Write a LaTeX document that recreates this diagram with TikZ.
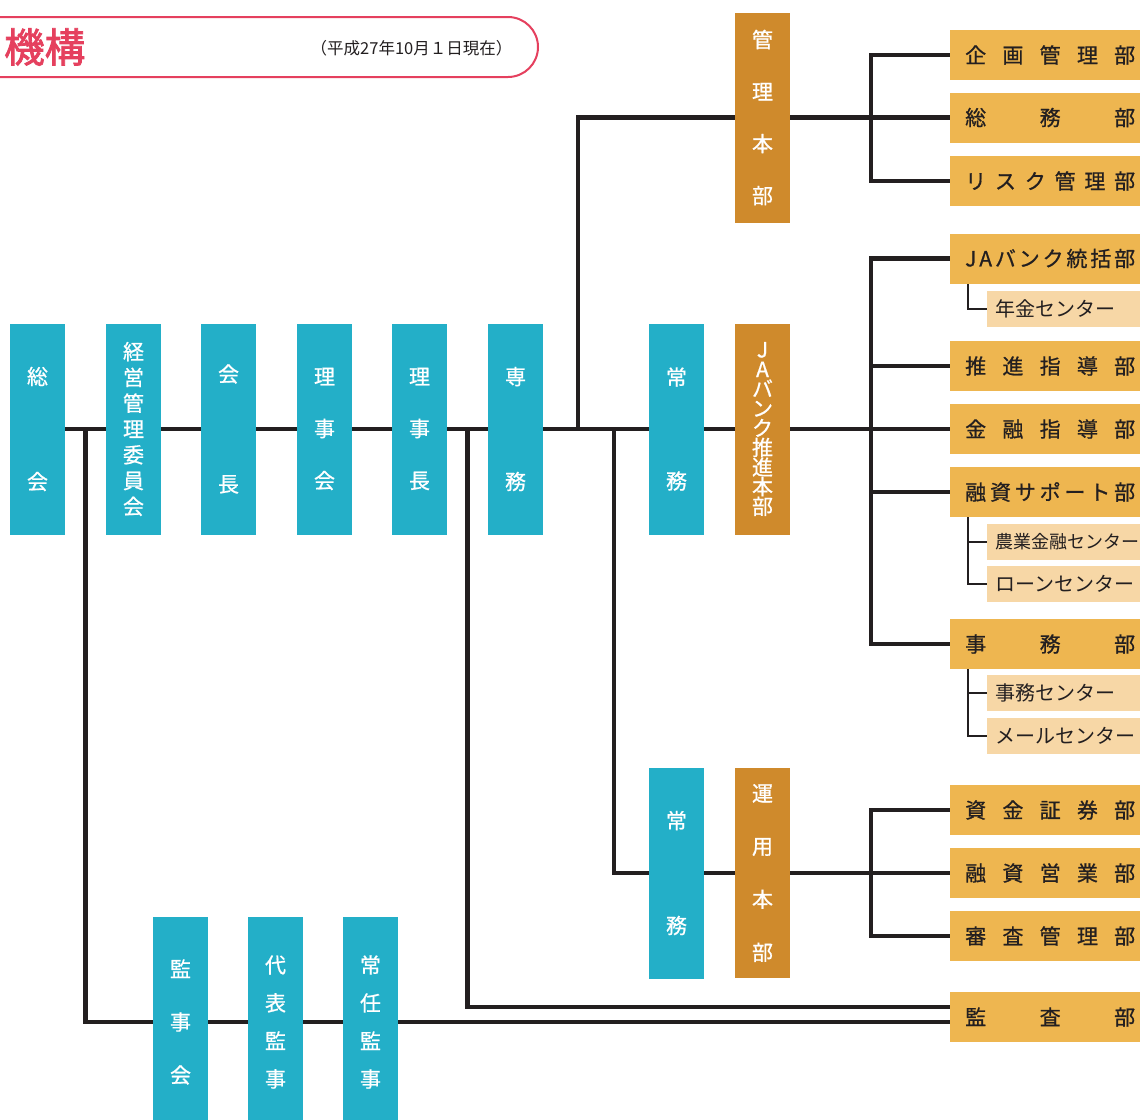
\documentclass[tikz,border=0pt]{standalone}
\usepackage{fontspec}
\setmainfont{Noto Sans CJK JP}
\newfontfamily\jpm[FakeBold=0.8]{Noto Sans CJK JP}
\newfontfamily\jpb[FakeBold=2]{Noto Sans CJK JP}
\usetikzlibrary{calc}
\definecolor{tealc}{HTML}{23AFC8}
\definecolor{dorange}{HTML}{CF8A2C}
\definecolor{lorange}{HTML}{EEB650}
\definecolor{porange}{HTML}{F7D7A6}
\definecolor{linec}{HTML}{231F20}
\definecolor{pinkc}{HTML}{E5405E}
\pgfdeclarelayer{back}
\pgfdeclarelayer{bg}
\pgfsetlayers{back,bg,main}
\newcommand\jt[1]{\makebox[170pt][s]{#1}}
\newcommand\sub[1]{\makebox[144pt][l]{#1}}
\begin{document}
\begin{tikzpicture}[x=1pt,y=-1pt,
  vbox/.style={minimum width=55pt, minimum height=211pt, inner sep=0pt, text=white, align=center, font=\jpm\fontsize{21}{21}\selectfont},
  tealbox/.style={vbox, fill=tealc},
  hqbox/.style={vbox, fill=dorange},
  deptbox/.style={fill=lorange, minimum width=200pt, minimum height=50pt, inner sep=0pt, anchor=west, text=linec, font=\jpm\fontsize{21}{21}\selectfont},
  subbox/.style={fill=porange, minimum width=160pt, minimum height=36pt, inner sep=0pt, anchor=west, text=linec, font=\fontsize{20}{20}\selectfont},
  conn/.style={draw=linec, line width=4.5pt},
  subconn/.style={draw=linec, line width=2.2pt}]
\useasboundingbox (0,0) rectangle (1140,1119);
\begin{pgfonlayer}{back}
\fill[white] (0,0) rectangle (1140,1119);
\end{pgfonlayer}
\clip (0,0) rectangle (1140,1119);

% header
\draw[draw=pinkc, line width=2pt, rounded corners=30pt] (-40,17) rectangle (538,77);
\node[anchor=west, inner sep=0pt, text=pinkc, font=\jpb\fontsize{40.5}{40.5}\selectfont] (title) at (4,47) {機構};
\node[inner sep=0pt, text=linec, font=\fontsize{16.5}{16.5}\selectfont] (date) at (411.5,48) {（平成27年10月１日現在）};

% top row
\node[tealbox] (sokai) at (37.5,429) {総\\[84pt]会};
\node[tealbox] (keiei) at (133.5,429) {経\\[4.8pt]営\\[4.8pt]管\\[4.8pt]理\\[4.8pt]委\\[4.8pt]員\\[4.8pt]会};
\node[tealbox] (kaicho) at (228.5,429) {会\\[89pt]長};
\node[tealbox] (rijikai) at (324.5,429) {理\\[31pt]事\\[31pt]会};
\node[tealbox] (rijicho) at (419.5,429) {理\\[31pt]事\\[31pt]長};
\node[tealbox] (senmu) at (515.5,429) {専\\[84pt]務};
\node[tealbox] (jomuA) at (676.5,429) {常\\[83pt]務};
\node[hqbox] (jahq) at (762.5,429) {J\\[-1.4pt]A\\[-1.4pt]バ\\[-1.4pt]ン\\[-1.4pt]ク\\[-1.4pt]推\\[-1.4pt]進\\[-1.4pt]本\\[-1.4pt]部};
\node[hqbox, minimum height=210pt] (kanrihq) at (762.5,117.5) {管\\[31pt]理\\[31pt]本\\[31pt]部};
\node[tealbox] (jomuB) at (676.5,873) {常\\[84pt]務};
\node[hqbox, minimum height=210pt] (unyohq) at (762.5,873) {運\\[32pt]用\\[32pt]本\\[32pt]部};

% audit
\node[tealbox] (kanjikai) at (180.5,1022) {監\\[32pt]事\\[32pt]会};
\node[tealbox] (daihyo) at (275.5,1022) {代\\[17pt]表\\[17pt]監\\[17pt]事};
\node[tealbox] (jonin) at (370.5,1022) {常\\[17pt]任\\[17pt]監\\[17pt]事};

% departments
\node[deptbox] (kikaku) at (950,55) {\jt{企\hfill 画\hfill 管\hfill 理\hfill 部}};
\node[deptbox] (somu) at (950,117.5) {\jt{総\hfill 務\hfill 部}};
\node[deptbox] (risk) at (950,181) {\jt{リ\hfill ス\hfill ク\hfill 管\hfill 理\hfill 部}};
\node[deptbox] (jatokatsu) at (950,258.5) {\jt{J\hfill A\hfill バ\hfill ン\hfill ク\hfill 統\hfill 括\hfill 部}};
\node[subbox] (nenkin) at (987,309) {\sub{年金センター}};
\node[deptbox] (suishin) at (950,366) {\jt{推\hfill 進\hfill 指\hfill 導\hfill 部}};
\node[deptbox] (kinyu) at (950,429) {\jt{金\hfill 融\hfill 指\hfill 導\hfill 部}};
\node[deptbox] (yushisup) at (950,492) {\jt{融\hfill 資\hfill サ\hfill ポ\hfill ー\hfill ト\hfill 部}};
\node[subbox] (nogyo) at (987,542) {\sub{\fontsize{18}{18}\selectfont 農業金融センター}};
\node[subbox] (loan) at (987,584) {\sub{ローンセンター}};
\node[deptbox] (jimu) at (950,644) {\jt{事\hfill 務\hfill 部}};
\node[subbox] (jimuc) at (987,693) {\sub{事務センター}};
\node[subbox] (mail) at (987,736) {\sub{メールセンター}};
\node[deptbox] (shikin) at (950,810) {\jt{資\hfill 金\hfill 証\hfill 券\hfill 部}};
\node[deptbox] (yushiei) at (950,873) {\jt{融\hfill 資\hfill 営\hfill 業\hfill 部}};
\node[deptbox] (shinsa) at (950,936) {\jt{審\hfill 査\hfill 管\hfill 理\hfill 部}};
\node[deptbox] (kansa) at (950,1017) {\jt{監\hfill 査\hfill 部}};

% junctions
\coordinate (j1) at ($(sokai.east)!0.5!(keiei.west)$);
\coordinate (j2) at ($(rijicho.east)!0.5!(senmu.west)$);
\coordinate (j3) at (578,429);
\coordinate (j4) at (614,429);
\coordinate (b1) at (871,117.5);
\coordinate (b2) at (871,429);
\coordinate (b3) at (871,873);

\begin{pgfonlayer}{bg}
\draw[conn] (sokai.east) -- (kinyu.west);
\draw[conn] (j1) |- ([yshift=-5pt]kansa.west);
\draw[conn] (j2) |- ([yshift=10pt]kansa.west);
\draw[conn] (j3) |- (kanrihq.west);
\draw[conn] (kanrihq.east) -- (somu.west);
\draw[conn] (kikaku.west) -| (b1) |- (risk.west);
\draw[conn] (jatokatsu.west) -| (b2) |- (jimu.west);
\draw[conn] (suishin.west) -- (suishin.west -| b2);
\draw[conn] (yushisup.west) -- (yushisup.west -| b2);
\draw[conn] (j4) |- (jomuB.west);
\draw[conn] (jomuB.east) -- (unyohq.west);
\draw[conn] (unyohq.east) -- (yushiei.west);
\draw[conn] (shikin.west) -| (b3) |- (shinsa.west);
\draw[subconn] ([xshift=18pt]jatokatsu.south west) |- (nenkin.west);
\draw[subconn] ([xshift=18pt]yushisup.south west) |- (nogyo.west);
\draw[subconn] ([xshift=18pt]yushisup.south west) |- (loan.west);
\draw[subconn] ([xshift=18pt]jimu.south west) |- (jimuc.west);
\draw[subconn] ([xshift=18pt]jimu.south west) |- (mail.west);
\end{pgfonlayer}
\end{tikzpicture}
\end{document}
